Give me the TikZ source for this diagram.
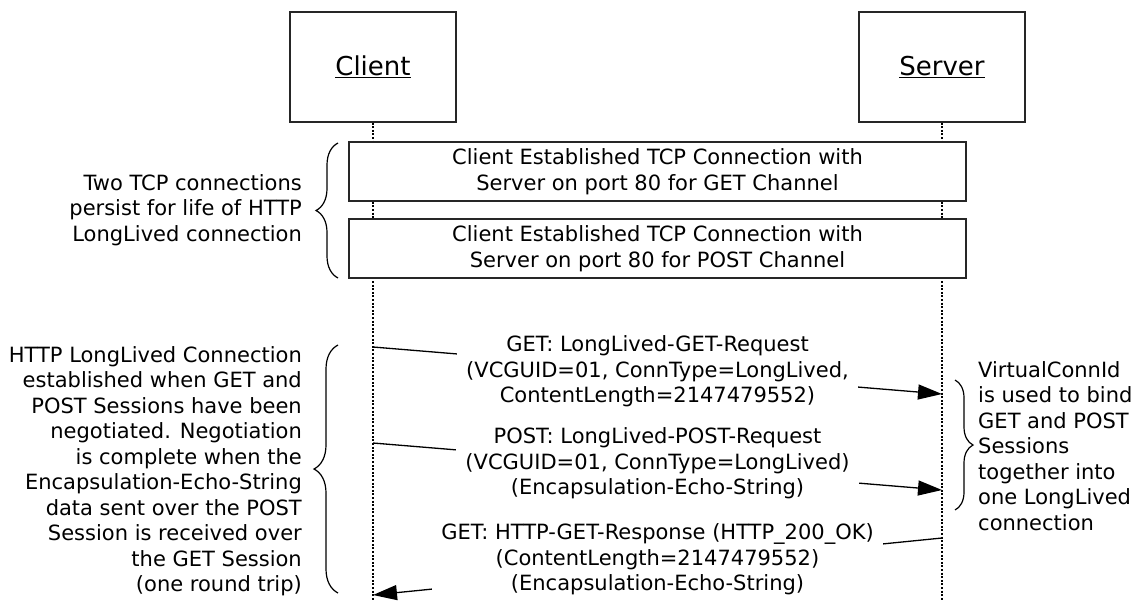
\documentclass[tikz,border=0pt]{standalone}
\usepackage{fontspec}
\setmainfont{DejaVu Sans}
\usetikzlibrary{arrows.meta,decorations.pathreplacing}
\tikzset{
  actor/.style={draw=black!85, line width=1.3pt, fill=white, minimum width=166pt, minimum height=110pt, inner sep=0pt, font=\fontsize{26}{30}\selectfont},
  lifeline/.style={line width=1.2pt, dash pattern=on 2pt off 1.6pt},
  tcpbox/.style={draw=black!85, line width=1.3pt, fill=white, minimum width=617pt, minimum height=59pt, inner sep=0pt, align=center, font=\fontsize{21}{25.5}\selectfont},
  msg/.style={line width=1.3pt},
  msgarrow/.style={line width=1.3pt, -{Triangle[length=24pt,width=15pt]}},
  lbl/.style={fill=white, align=center, inner xsep=9pt, inner ysep=3pt, font=\fontsize{21}{25.5}\selectfont},
  note/.style={inner sep=0pt, font=\fontsize{21}{25.5}\selectfont},
  bracel/.style={line width=1.2pt, decorate, decoration={brace, amplitude=#1}},
}
\begin{document}
\begin{tikzpicture}[x=1pt,y=-1pt]
\useasboundingbox (0,0) rectangle (1145,600);
% actors
\node[actor] (client) at (373,67) {\underline{Client}};
\node[actor] (server) at (942,67) {\underline{Server}};
\coordinate (cend) at (373,600);
\coordinate (send) at (942,600);
\draw[lifeline] (client.south) -- (cend);
\draw[lifeline] (server.south) -- (send);
% TCP boxes
\node[tcpbox] (tcp1) at (657.5,171.5) {Client Established TCP Connection with\\Server on port 80 for GET Channel};
\node[tcpbox] (tcp2) at (657.5,248.5) {Client Established TCP Connection with\\Server on port 80 for POST Channel};
% braces
\coordinate (b1a) at (338,278);
\coordinate (b1b) at (338,143);
\draw[bracel=22pt] (b1a) -- (b1b);
\node[note, anchor=east, align=right] (n1) at (302,210) {Two TCP connections\\persist for life of HTTP\\LongLived connection};
\coordinate (b2a) at (338,593);
\coordinate (b2b) at (338,345);
\draw[bracel=24pt] (b2a) -- (b2b);
\node[note, anchor=east, align=right] (n2) at (302,471) {HTTP LongLived Connection\\established when GET and\\POST Sessions have been\\negotiated. Negotiation\\is complete when the\\Encapsulation-Echo-String\\data sent over the POST\\Session is received over\\the GET Session\\(one round trip)};
\coordinate (b3a) at (955,380);
\coordinate (b3b) at (955,510);
\draw[bracel=18pt] (b3a) -- (b3b);
\node[note, anchor=west, align=left] (n3) at (978,446) {VirtualConnId\\is used to bind\\GET and POST\\Sessions\\together into\\one LongLived\\connection};
% messages
\coordinate (c1) at (373,347);
\coordinate (s1) at (942,394);
\coordinate (c2) at (373,443);
\coordinate (s2) at (942,490);
\coordinate (s3) at (942,538);
\coordinate (c3) at (373,595);
\draw[msgarrow] (c1) -- node[lbl, yshift=-1pt] (m1) {GET: LongLived-GET-Request\\(VCGUID=01, ConnType=LongLived,\\ContentLength=2147479552)} (s1);
\draw[msgarrow] (c2) -- node[lbl, yshift=3pt] (m2) {POST: LongLived-POST-Request\\(VCGUID=01, ConnType=LongLived)\\(Encapsulation-Echo-String)} (s2);
\draw[msgarrow] (s3) -- node[lbl, yshift=7pt] (m3) {GET: HTTP-GET-Response (HTTP\_200\_OK)\\(ContentLength=2147479552)\\(Encapsulation-Echo-String)} (c3);
\end{tikzpicture}
\end{document}
